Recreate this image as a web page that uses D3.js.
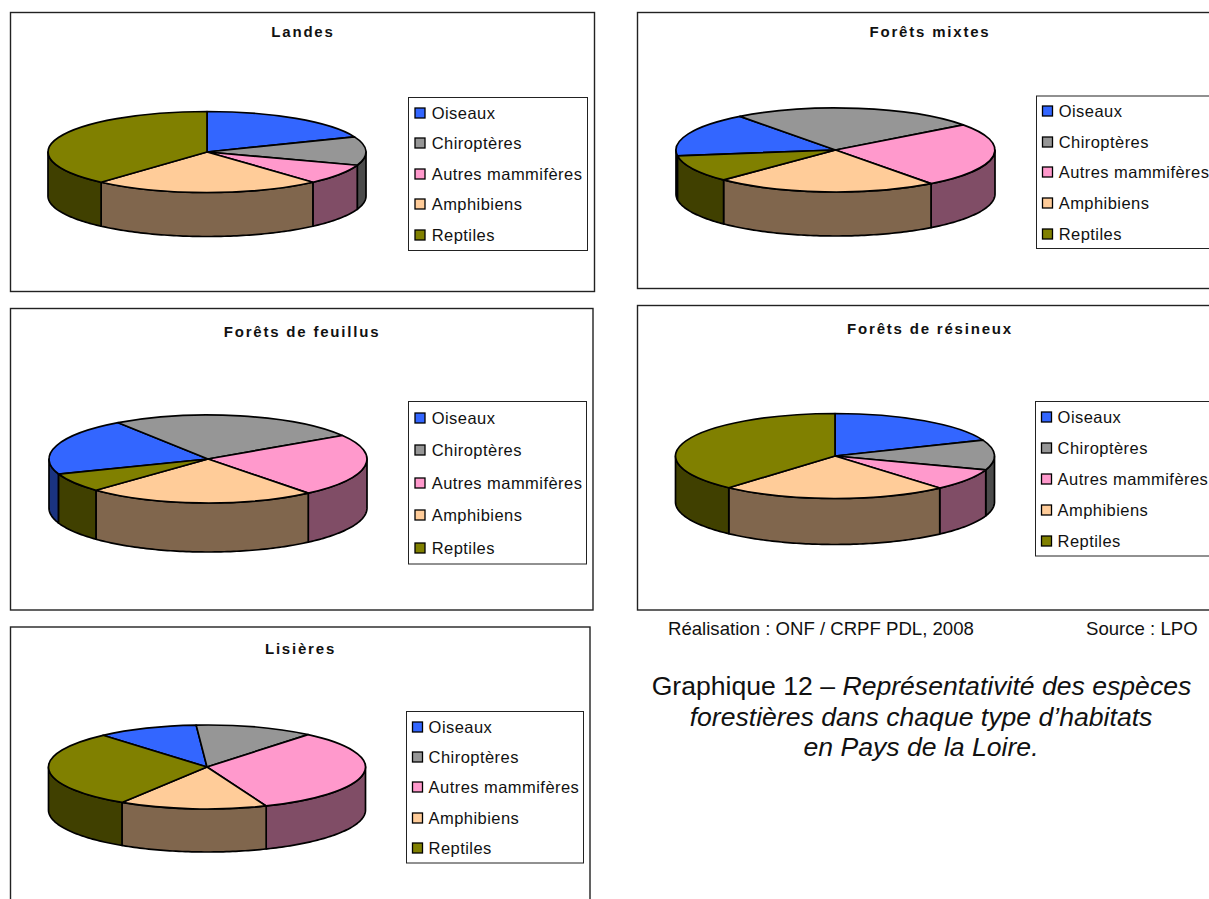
<!DOCTYPE html>
<html lang="fr">
<head>
<meta charset="utf-8">
<script src="https://cdn.jsdelivr.net/npm/d3@7"></script>
<style>
    body { margin: 0; background: #fff; }
    svg { display: block; font-family: "Liberation Sans", Arial, sans-serif; }
    .title { font-weight: bold; font-size: 15px; letter-spacing: 1.8px; text-anchor: middle; fill: #111; }
    .legend-label { font-size: 16.5px; letter-spacing: 0.45px; fill: #111; }
    .note { font-size: 18.6px; fill: #111; }
    .caption { font-size: 26.6px; text-anchor: middle; fill: #111; }
</style>
</head>
<body>
<div id="chart"></div>
<script>
const species = ['Oiseaux', 'Chiroptères', 'Autres mammifères', 'Amphibiens', 'Reptiles'];
const speciesColors = ['#3366ff', '#969696', '#ff99cc', '#ffcc99', '#808000'];

// percentages
const landes = [18.9, 11.4, 8.1, 23.2, 38.4];
const foretsMixtes = [17, 25, 25, 22.6, 10.4];
const foretsFeuillus = [21, 25.6, 23.1, 23.3, 7];
const foretsResineux = [18.9, 11.4, 8.3, 23, 38.4];
const lisieres = [10.3, 12.1, 32.9, 15.1, 29.6];

// layout of each chart, nothing here is data
const panels = [
    { title: 'Landes', values: landes, start: 0,
      box: [10.5, 12.5, 584, 279], titleX: 303, titleY: 37,
      pie: { cx: 207, cy: 152, rx: 159, ry: 40.5, depth: 44 },
      legend: { x: 408.5, y: 97.5, w: 179, h: 153, swatchX: 415, textX: 431.7, rows: [113, 143, 174, 204, 235] } },
    { title: 'Forêts mixtes', values: foretsMixtes, start: 262,
      box: [637.5, 12.5, 640, 276], titleX: 930, titleY: 37,
      pie: { cx: 835.5, cy: 150, rx: 159.5, ry: 42, depth: 44 },
      legend: { x: 1036.5, y: 96, w: 240, h: 152.5, swatchX: 1042.5, textX: 1058.7, rows: [111, 142, 172, 203, 234] } },
    { title: 'Forêts de feuillus', values: foretsFeuillus, start: 250,
      box: [10.5, 308.5, 582.5, 301.5], titleX: 302, titleY: 337,
      pie: { cx: 208, cy: 459, rx: 159, ry: 44, depth: 49 },
      legend: { x: 408.5, y: 401.5, w: 178, h: 162.5, swatchX: 415, textX: 431.7, rows: [418, 450, 483, 515, 548] } },
    { title: 'Forêts de résineux', values: foretsResineux, start: 0,
      box: [637.5, 305.5, 640, 304.5], titleX: 930, titleY: 334,
      pie: { cx: 835, cy: 456, rx: 159.5, ry: 42.5, depth: 46 },
      legend: { x: 1035.5, y: 401.5, w: 240, h: 154.5, swatchX: 1041.5, textX: 1057.6, rows: [417, 448, 479, 510, 541] } },
    { title: 'Lisières', values: lisieres, start: 319,
      box: [10.5, 627, 579.5, 320], titleX: 300.5, titleY: 654,
      pie: { cx: 207, cy: 767, rx: 158.5, ry: 42, depth: 43 },
      legend: { x: 406.5, y: 711.5, w: 177, h: 151.5, swatchX: 412.5, textX: 428.6, rows: [727, 757, 787, 818, 848] } }
];

const svg = d3.select('#chart').append('svg')
    .attr('width', 1209)
    .attr('height', 899);

const tau = 2 * Math.PI;
const pieStroke = 1.7;

// parts of a slice that face the viewer (sin/cos run clockwise from the top)
function frontParts(a0, a1) {
    const parts = [];
    [0, tau].forEach((offset) => {
        const from = Math.max(a0, Math.PI / 2 + offset);
        const to = Math.min(a1, 3 * Math.PI / 2 + offset);
        if (to > from) parts.push([from, to]);
    });
    return parts;
}

function sideColor(color) {
    const c = d3.rgb(color);
    return d3.rgb(c.r / 2, c.g / 2, c.b / 2).formatHex();
}

function drawPanel(panel) {
    const { pie: p, legend: l } = panel;
    const g = svg.append('g');

    g.append('rect')
        .attr('x', panel.box[0])
        .attr('y', panel.box[1])
        .attr('width', panel.box[2])
        .attr('height', panel.box[3])
        .attr('fill', '#fff')
        .attr('stroke', '#222')
        .attr('stroke-width', 1.4);

    g.append('text')
        .attr('class', 'title')
        .attr('x', panel.titleX)
        .attr('y', panel.titleY)
        .text(panel.title);

    const startAngle = panel.start * Math.PI / 180;
    const slices = d3.pie()
        .sort(null)
        .startAngle(startAngle)
        .endAngle(startAngle + tau)(panel.values);

    // the wall of the cake, from the same angles as the top
    const side = d3.area()
        .x((a) => p.rx * Math.sin(a))
        .y0((a) => -p.ry * Math.cos(a))
        .y1((a) => -p.ry * Math.cos(a) + p.depth);

    const pieGroup = g.append('g')
        .attr('transform', `translate(${p.cx},${p.cy})`);

    slices.forEach((slice) => {
        frontParts(slice.startAngle, slice.endAngle).forEach(([from, to]) => {
            const steps = d3.range(from, to, 0.02).concat(to);
            pieGroup.append('path')
                .attr('d', side(steps))
                .attr('fill', sideColor(speciesColors[slice.index]))
                .attr('stroke', '#000')
                .attr('stroke-width', pieStroke)
                .attr('stroke-linejoin', 'round');
        });
    });

    // top face: a circle squashed into an ellipse
    const arc = d3.arc().innerRadius(0).outerRadius(p.rx);
    pieGroup.append('g')
        .attr('transform', `scale(1,${p.ry / p.rx})`)
        .selectAll('path')
        .data(slices)
        .enter()
        .append('path')
        .attr('d', arc)
        .attr('fill', (d) => speciesColors[d.index])
        .attr('stroke', '#000')
        .attr('stroke-width', pieStroke)
        .attr('stroke-linejoin', 'round')
        .attr('vector-effect', 'non-scaling-stroke');

    // Legend
    g.append('rect')
        .attr('x', l.x)
        .attr('y', l.y)
        .attr('width', l.w)
        .attr('height', l.h)
        .attr('fill', '#fff')
        .attr('stroke', '#222')
        .attr('stroke-width', 1);

    const rows = g.selectAll('.legend-row')
        .data(species)
        .enter()
        .append('g')
        .attr('class', 'legend-row');

    rows.append('rect')
        .attr('x', l.swatchX)
        .attr('y', (d, i) => l.rows[i] - 5)
        .attr('width', 10)
        .attr('height', 10)
        .attr('fill', (d, i) => speciesColors[i])
        .attr('stroke', '#000')
        .attr('stroke-width', 1.3);

    rows.append('text')
        .attr('class', 'legend-label')
        .attr('x', l.textX)
        .attr('y', (d, i) => l.rows[i] + 6)
        .text((d) => d);
}

panels.forEach(drawPanel);

// Text below the charts
svg.append('text').attr('class', 'note').attr('x', 668).attr('y', 635)
    .text('Réalisation : ONF / CRPF PDL, 2008');
svg.append('text').attr('class', 'note').attr('x', 1086).attr('y', 635)
    .text('Source : LPO');

const captionLine1 = svg.append('text').attr('class', 'caption').attr('x', 921.5).attr('y', 695);
captionLine1.append('tspan').text('Graphique 12 – ');
captionLine1.append('tspan').attr('font-style', 'italic').text('Représentativité des espèces');
svg.append('text').attr('class', 'caption').attr('x', 921).attr('y', 725.5)
    .attr('font-style', 'italic').text('forestières dans chaque type d’habitats');
svg.append('text').attr('class', 'caption').attr('x', 921).attr('y', 756)
    .attr('font-style', 'italic').text('en Pays de la Loire.');
</script>
</body>
</html>
